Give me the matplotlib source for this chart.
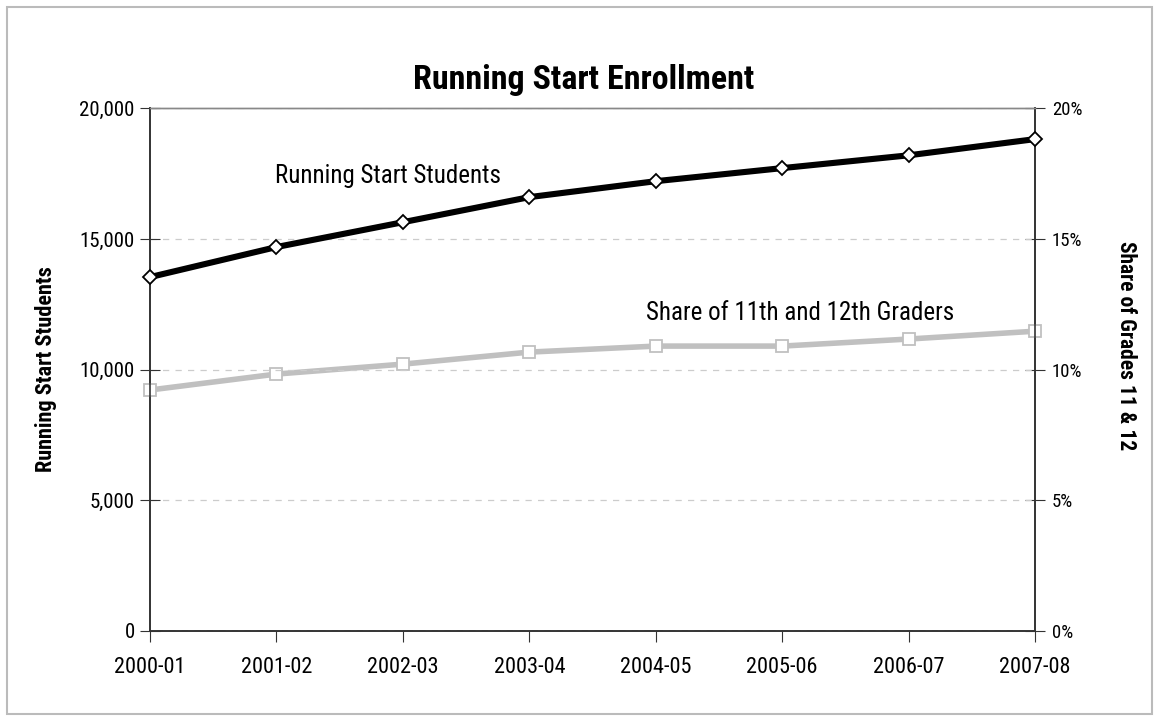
import matplotlib.pyplot as plt
from matplotlib.patches import Rectangle
from matplotlib.ticker import FuncFormatter

plt.rcParams['font.family'] = ['Liberation Sans Narrow', 'Roboto Condensed', 'Open Sans Condensed',
                               'Liberation Sans', 'DejaVu Sans']

# Data
years = ['2000-01', '2001-02', '2002-03', '2003-04', '2004-05', '2005-06', '2006-07', '2007-08']
students = [13540, 14690, 15640, 16600, 17210, 17710, 18200, 18820]
share_pct = [9.22, 9.83, 10.21, 10.67, 10.90, 10.90, 11.17, 11.47]

fig = plt.figure(figsize=(11.54, 7.17), dpi=100)
ax = fig.add_axes([0.13, 0.12, 0.767, 0.729])
ax2 = ax.twinx()

x = list(range(len(years)))

# Gridlines
ax.set_ylim(0, 20000)
ax.set_yticks([0, 5000, 10000, 15000, 20000])
ax.yaxis.grid(True, color='#cccccc', linestyle=(0, (5, 5)), linewidth=0.9)
ax.set_axisbelow(True)

ax2.plot(x, share_pct, color='#c0c0c0', linewidth=4.0, marker='s', markersize=8,
         markerfacecolor='white', markeredgecolor='#c0c0c0', markeredgewidth=1.3,
         zorder=3, clip_on=False)
ax2.set_ylim(0, 20)
ax2.set_yticks([0, 5, 10, 15, 20])
ax2.yaxis.set_major_formatter(FuncFormatter(lambda v, p: f"{int(v)}%"))

ax.set_zorder(ax2.get_zorder() + 1)
ax.patch.set_visible(False)
ax.plot(x, students, color='black', linewidth=4.4, marker='D', markersize=7.5,
        markerfacecolor='white', markeredgecolor='black', markeredgewidth=1.3,
        zorder=4, clip_on=False)

ax.set_xlim(0, len(years) - 1)
ax.set_xticks(x)
ax.set_xticklabels(years)
ax.yaxis.set_major_formatter(FuncFormatter(lambda v, p: f"{int(v):,}"))

for a in (ax, ax2):
    for s in a.spines.values():
        s.set_color('#333333')
        s.set_linewidth(1.2)
    a.spines['top'].set_color('#888888')
    a.spines['top'].set_linewidth(1.0)

ax.tick_params(axis='y', direction='inout', length=14, labelsize=15, pad=4, color='#333333')
ax.tick_params(axis='x', direction='out', length=8, labelsize=16, pad=11, color='#333333')
ax2.tick_params(axis='y', direction='inout', length=14, labelsize=13.5, pad=5, color='#333333')

ax.set_ylabel('Running Start Students', fontsize=16, fontweight='bold', va='center')
ax.yaxis.set_label_coords(-0.118, 0.5)
ax2.set_ylabel('Share of Grades 11 & 12', fontsize=15.5, fontweight='bold', rotation=270, va='center')
ax2.yaxis.set_label_coords(1.103, 0.545)

ax.set_title('Running Start Enrollment', fontsize=24.5, fontweight='bold', pad=14, x=0.49)

ax.text(1.88, 17400, 'Running Start Students', fontsize=18, ha='center', va='center')
ax.text(5.14, 12160, 'Share of 11th and 12th Graders', fontsize=18, ha='center', va='center')

# Outer chart border
fig.patches.append(Rectangle((7 / 1154, 0.004), 1 - 9 / 1154, 1 - 7 / 717 - 0.004,
                             transform=fig.transFigure, fill=False,
                             edgecolor='#bbbbbb', linewidth=1.5))

fig.savefig('out.png', dpi=100)
